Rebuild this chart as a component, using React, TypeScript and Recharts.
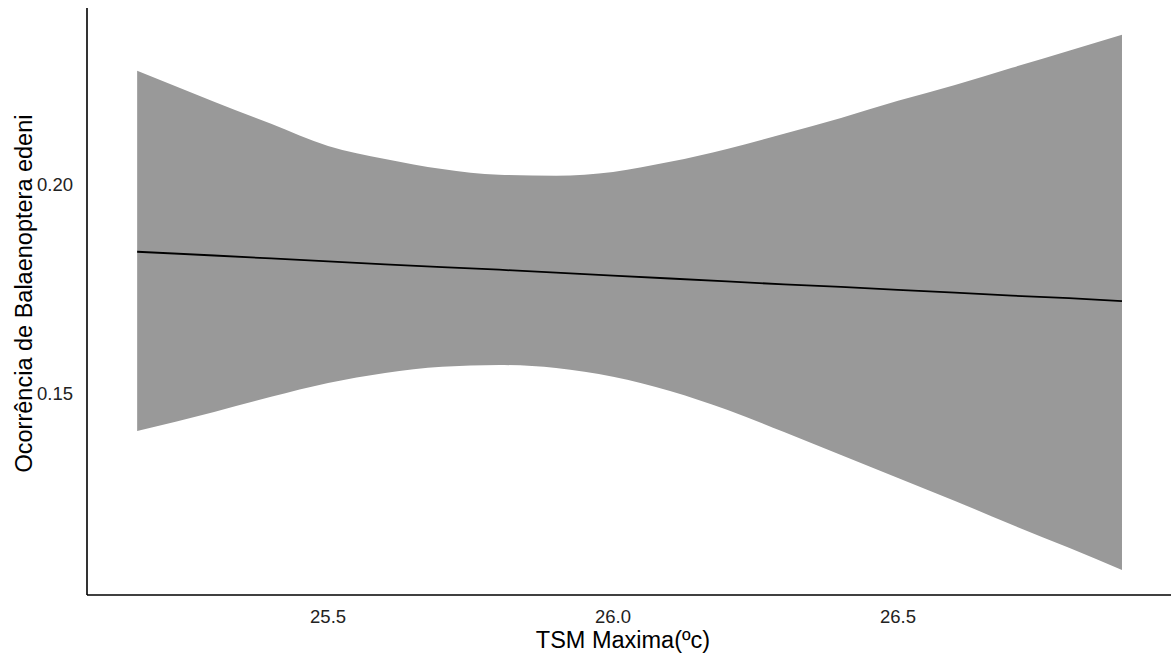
import { ComposedChart, Area, Line, XAxis, YAxis } from "recharts";

// TSM maxima (x) where the fitted curve and its confidence band were sampled
const tsm = [25.165, 25.3, 25.4, 25.5, 25.6, 25.7, 25.8, 25.9, 26.0, 26.1, 26.2, 26.3, 26.4, 26.5, 26.6, 26.7, 26.8, 26.893];
const fitted = [0.184, 0.1831, 0.1824, 0.1817, 0.181, 0.1803, 0.1797, 0.179, 0.1783, 0.1776, 0.1769, 0.1762, 0.1756, 0.1749, 0.1742, 0.1735, 0.1729, 0.1722];
const upper = [0.2273, 0.2199, 0.2146, 0.2093, 0.2062, 0.2038, 0.2024, 0.2022, 0.2031, 0.2055, 0.2086, 0.2122, 0.216, 0.2201, 0.2239, 0.228, 0.2321, 0.2359];
const lower = [0.1411, 0.1457, 0.1493, 0.1526, 0.155, 0.1565, 0.1569, 0.1562, 0.1541, 0.1507, 0.1462, 0.1409, 0.1354, 0.1299, 0.1244, 0.1187, 0.1132, 0.1079];

const xTicks = [25.5, 26.0, 26.5];
const yTicks = [0.15, 0.2];

const font = "'Liberation Sans', Arial, sans-serif";

const data = tsm.map((x, i) => ({ x, band: [lower[i], upper[i]], fit: fitted[i] }));

const XTitle = ({ viewBox }: any) => (
  <text
    x={viewBox.x + viewBox.width / 2 - 6}
    y={viewBox.y + viewBox.height - 5}
    textAnchor="middle"
    fontFamily={font}
    fontSize={23.5}
    fill="#000"
  >
    TSM Maxima(ºc)
  </text>
);

const YTitle = ({ viewBox }: any) => {
  const cx = viewBox.x + 24;
  const cy = viewBox.y + viewBox.height / 2 - 8;
  return (
    <text
      x={cx}
      y={cy}
      transform={`rotate(-90 ${cx} ${cy})`}
      textAnchor="middle"
      dominantBaseline="central"
      fontFamily={font}
      fontSize={23.5}
      fill="#000"
    >
      Ocorrência de Balaenoptera edeni
    </text>
  );
};

export default function App() {
  return (
    <div style={{ position: "absolute", left: 0, top: 0, background: "#fff" }}>
      <ComposedChart width={1171} height={653} data={data} margin={{ top: 8, right: 0, bottom: 0, left: 0 }}>
        <XAxis
          dataKey="x"
          type="number"
          domain={[25.077, 26.979]}
          ticks={xTicks}
          tickFormatter={(v: number) => v.toFixed(1)}
          tickLine={false}
          tickSize={0}
          tickMargin={15}
          height={58}
          axisLine={{ stroke: "#000", strokeWidth: 1.6 }}
          tick={{ fill: "#222", fontSize: 18.5, fontFamily: font }}
          allowDataOverflow
          label={<XTitle />}
        />
        <YAxis
          type="number"
          domain={[0.1019, 0.2423]}
          ticks={yTicks}
          tickFormatter={(v: number) => v.toFixed(2)}
          tickLine={false}
          tickSize={0}
          tickMargin={14}
          width={87}
          axisLine={{ stroke: "#000", strokeWidth: 1.6 }}
          tick={{ fill: "#222", fontSize: 18.5, fontFamily: font }}
          allowDataOverflow
          label={<YTitle />}
        />
        <Area
          dataKey="band"
          type="monotone"
          stroke="none"
          fill="#999999"
          fillOpacity={1}
          isAnimationActive={false}
        />
        <Line
          dataKey="fit"
          type="linear"
          stroke="#000"
          strokeWidth={1.8}
          dot={false}
          isAnimationActive={false}
        />
      </ComposedChart>
    </div>
  );
}
